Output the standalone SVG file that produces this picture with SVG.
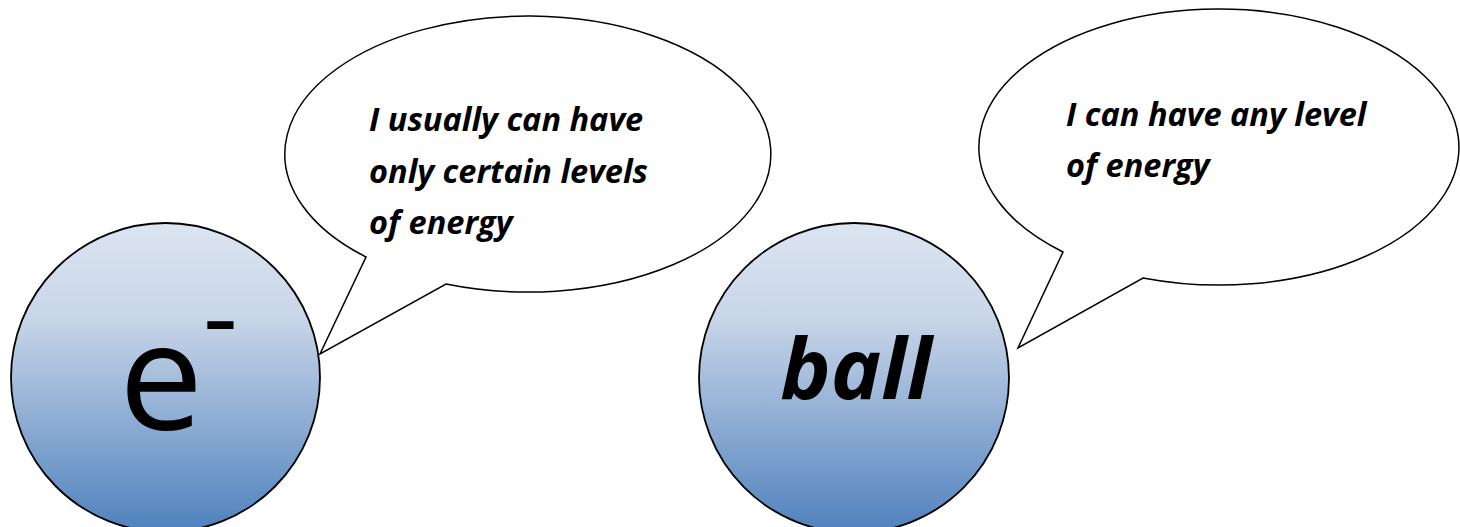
<svg xmlns="http://www.w3.org/2000/svg" width="1460" height="527" viewBox="0 0 1460 527">
  <style>
    .bubble { fill: #ffffff; stroke: #000000; stroke-width: 1.5; stroke-linejoin: miter; }
    .ball { fill: url(#blueGrad); stroke: #000000; stroke-width: 1.8; }
    .say { font-family: "Open Sans", "Liberation Sans", sans-serif; font-weight: bold; font-style: italic; font-size: 32.5px; fill: #000000; }
  </style>
  <defs>
    <linearGradient id="blueGrad" x1="0" y1="0" x2="0" y2="1">
      <stop offset="0" stop-color="#dce5f1"/>
      <stop offset="0.3" stop-color="#c9d6e8"/>
      <stop offset="1" stop-color="#4f81bd"/>
    </linearGradient>
  </defs>

  <g id="connectors">
    <path id="bubble-left" class="bubble" d="M 446 284 A 243 138 0 1 0 366 257 L 320 354 Z"/>
    <path id="bubble-right" class="bubble" d="M 1143 278 A 240 138 0 1 0 1063 252 L 1018 348 Z"/>
  </g>

  <g id="node-electron">
    <circle class="ball" cx="165.5" cy="377.5" r="154.5"/>
    <text x="119" y="430" font-family="Open Sans, Liberation Sans, sans-serif" font-size="150" fill="#000">e<tspan x="203" y="354" font-size="108">-</tspan></text>
  </g>

  <g id="node-ball">
    <circle class="ball" cx="854" cy="378" r="155"/>
    <text x="856" y="399" text-anchor="middle" font-family="Open Sans, Liberation Sans, sans-serif" font-weight="bold" font-style="italic" font-size="85" fill="#000">ball</text>
  </g>

  <g id="text-left">
    <text class="say" x="369" y="131">I usually can have</text>
    <text class="say" x="369" y="183">only certain levels</text>
    <text class="say" x="369" y="234">of energy</text>
  </g>

  <g id="text-right">
    <text class="say" x="1066" y="126">I can have any level</text>
    <text class="say" x="1066" y="177">of energy</text>
  </g>
</svg>
